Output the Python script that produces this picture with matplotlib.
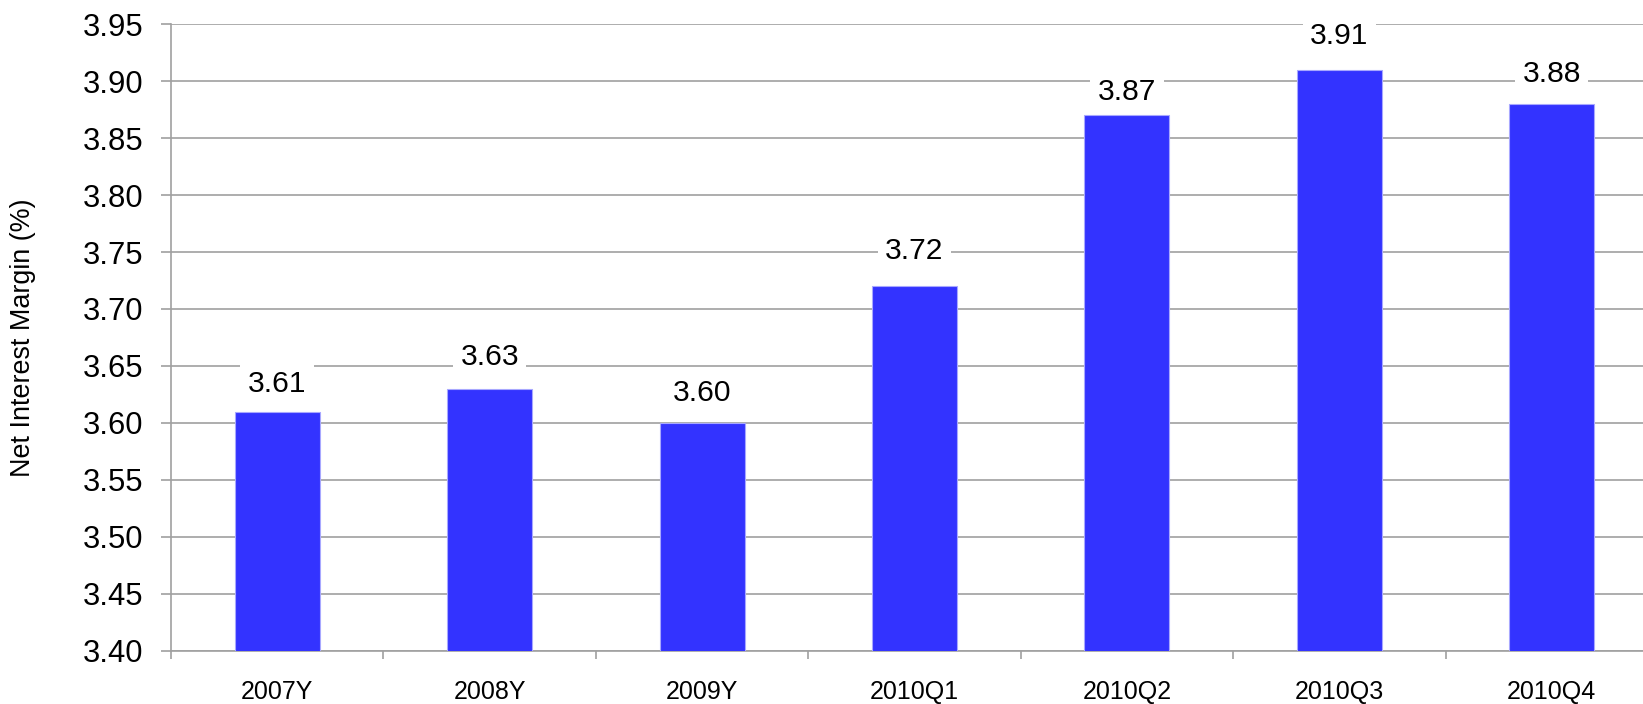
import matplotlib
matplotlib.use("Agg")
import matplotlib.pyplot as plt
import numpy as np

plt.rcParams['font.family'] = ['Liberation Sans', 'DejaVu Sans']

categories = ["2007Y", "2008Y", "2009Y", "2010Q1", "2010Q2", "2010Q3", "2010Q4"]
margins = [3.61, 3.63, 3.60, 3.72, 3.87, 3.91, 3.88]
y_ticks = [3.40, 3.45, 3.50, 3.55, 3.60, 3.65, 3.70, 3.75, 3.80, 3.85, 3.90, 3.95]

# gap (points) between each bar top and the baseline of its value label
label_gap = [14.4, 17.3, 15.8, 19.4, 10.8, 18.7, 15.8]

grid_color = "#a0a0a0"

fig = plt.figure(figsize=(16.43, 7.04), dpi=100)
ax = fig.add_axes([0.1041, 0.0753, 0.905, 0.8906])

x = np.arange(len(categories))
ax.bar(x, margins, width=0.4, color="#3333ff", edgecolor="#a8a8ff",
       linewidth=0.8, zorder=3)

ax.set_ylim(3.40, 3.95)
ax.set_xlim(-0.5, len(categories) - 0.5)
ax.set_yticks(y_ticks)
ax.set_yticklabels([f"{v:.2f}" for v in y_ticks], fontsize=22.3)
ax.yaxis.grid(True, color=grid_color, linewidth=1.2, zorder=0)
ax.set_axisbelow(True)

# category labels centred on bars; tick marks sit on category boundaries
ax.set_xticks(x)
ax.set_xticklabels(categories, fontsize=18)
ax.tick_params(axis="x", which="major", length=0, pad=21)
ax.set_xticks(np.arange(-0.5, len(categories) + 0.5, 1.0), minor=True)
ax.tick_params(axis="x", which="minor", length=6, width=1.2, color=grid_color)
ax.tick_params(axis="y", length=7, width=1.2, color=grid_color, pad=13)

for side in ("top", "right"):
    ax.spines[side].set_visible(False)
for side in ("left", "bottom"):
    ax.spines[side].set_color(grid_color)
    ax.spines[side].set_linewidth(1.2)

ax.set_ylabel("Net Interest Margin (%)", fontsize=19.4)
ax.yaxis.set_label_coords(-0.0905, 0.5)

for xi, v, gap in zip(x, margins, label_gap):
    ax.annotate(f"{v:.2f}", xy=(xi, v), xytext=(0, gap), textcoords="offset points",
                ha="center", va="baseline", fontsize=21.6, zorder=4,
                bbox=dict(boxstyle="square,pad=0.25", facecolor="white",
                          edgecolor="none"))

fig.savefig("out.png", dpi=100)
